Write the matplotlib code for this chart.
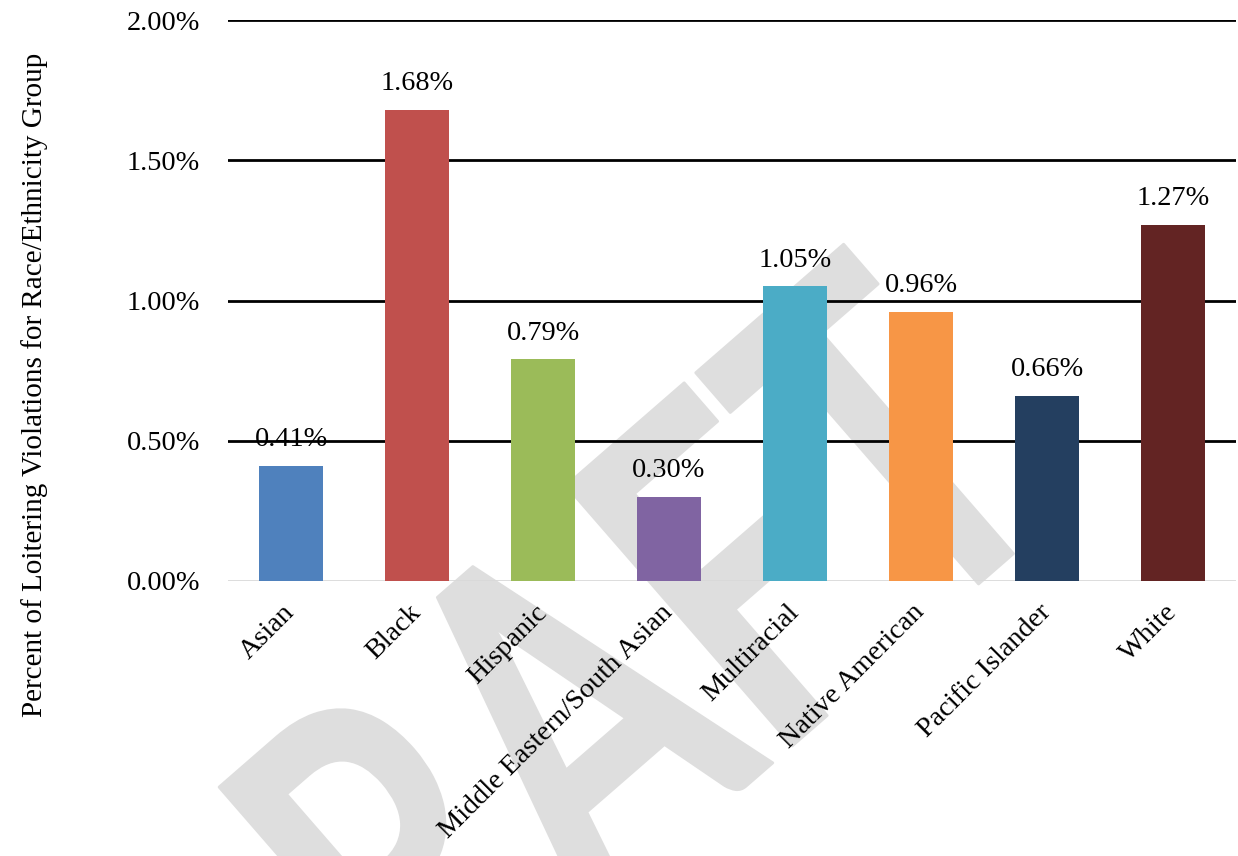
import matplotlib
matplotlib.use("Agg")
import matplotlib.pyplot as plt
from matplotlib.ticker import FuncFormatter
from matplotlib.textpath import TextPath
from matplotlib.font_manager import FontProperties
from matplotlib.patches import PathPatch
from matplotlib.transforms import Affine2D, IdentityTransform

groups = ["Asian", "Black", "Hispanic", "Middle Eastern/South Asian",
          "Multiracial", "Native American", "Pacific Islander", "White"]
pct_values = [0.41, 1.68, 0.79, 0.30, 1.05, 0.96, 0.66, 1.27]
bar_colors = ["#4F81BD", "#C0504D", "#9BBB59", "#8064A2",
              "#4BACC6", "#F79646", "#243F60", "#632423"]
y_ticks = [0.0, 0.5, 1.0, 1.5, 2.0]
watermark = "DRAFT"

W, H = 1238, 856
FS = 20.3
fig = plt.figure(figsize=(W / 100, H / 100), dpi=100)
plt.rcParams["font.family"] = ["Liberation Serif", "DejaVu Serif"]

# Watermark: condensed, rotated text path, placed by the apex of the "A"
wm_font = FontProperties(family="Lato", weight="bold")
tp = TextPath((0, 0), watermark, size=100, prop=wm_font)
cap = TextPath((0, 0), "T", size=100, prop=wm_font).get_extents().y1
a_ext = TextPath((0, 0), "A", size=100, prop=wm_font).get_extents()
apex_x = TextPath((0, 0), "DRA", size=100, prop=wm_font).get_extents().x1 - a_ext.width / 2
k = 345 / cap
tr = (Affine2D().translate(-apex_x, -cap).scale(k * 0.72, k)
      .rotate_deg(41).translate(455, H - 582))
fig.add_artist(PathPatch(tr.transform_path(tp), facecolor="#dedede",
                         edgecolor="#dedede", linewidth=2, joinstyle="round",
                         transform=IdentityTransform(), zorder=-5))

# axes box in pixels: left 228, right 1236, top 20, bottom 581
ax = fig.add_axes([228 / W, 1 - 581 / H, (1236 - 228) / W, (581 - 20) / H])
ax.patch.set_alpha(0)

x = list(range(len(groups)))
bars = ax.bar(x, pct_values, width=0.51, color=bar_colors, zorder=3)

ax.set_xlim(-0.5, len(groups) - 0.5)
ax.set_ylim(0, 2.0)
ax.set_yticks(y_ticks)
ax.yaxis.set_major_formatter(FuncFormatter(lambda v, _: f"{v:.2f}%"))
for t in y_ticks[1:]:
    ax.axhline(t, color="black", linewidth=2.0, zorder=2)
ax.axhline(0, color="#d9d9d9", linewidth=2.0, zorder=2)

for s in ax.spines.values():
    s.set_visible(False)
ax.tick_params(axis="both", length=0, labelsize=FS)
ax.tick_params(axis="y", pad=20)
ax.set_xticks(x)
ax.set_xticklabels(groups, rotation=45, ha="right", va="center",
                   rotation_mode="anchor")
ax.tick_params(axis="x", pad=20)

for b, v in zip(bars, pct_values):
    ax.annotate(f"{v:.2f}%", (b.get_x() + b.get_width() / 2, v),
                xytext=(0, 10), textcoords="offset points",
                ha="center", va="bottom", fontsize=FS)

fig.text(35 / W, 1 - 385 / H,
         "Percent of Loitering Violations for Race/Ethnicity Group",
         rotation=90, ha="center", va="center", fontsize=21)

fig.savefig("out.png", dpi=100)
